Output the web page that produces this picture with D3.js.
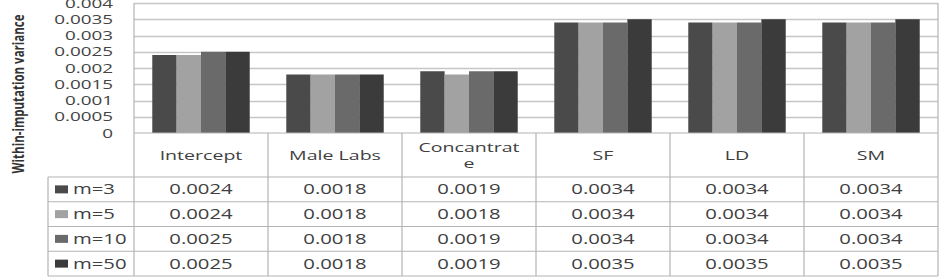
<!DOCTYPE html>
<html>
<head>
<meta charset="utf-8">
<script src="https://cdn.jsdelivr.net/npm/d3@7"></script>
<style>
body { margin: 0; background: #fff; }
text { font-family: "Open Sans", sans-serif; }
</style>
</head>
<body>
<div id="container"></div>
<script>
var categories = ['Intercept', 'Male Labs', 'Concantrate', 'SF', 'LD', 'SM'];
var headerLines = [['Intercept'], ['Male Labs'], ['Concantrat', 'e'], ['SF'], ['LD'], ['SM']];
var series = ['m=3', 'm=5', 'm=10', 'm=50'];
var m3 = [0.0024, 0.0018, 0.0019, 0.0034, 0.0034, 0.0034];
var m5 = [0.0024, 0.0018, 0.0018, 0.0034, 0.0034, 0.0034];
var m10 = [0.0025, 0.0018, 0.0019, 0.0034, 0.0034, 0.0034];
var m50 = [0.0025, 0.0018, 0.0019, 0.0035, 0.0035, 0.0035];
var yTicks = [0, 0.0005, 0.001, 0.0015, 0.002, 0.0025, 0.003, 0.0035, 0.004];
var yTickLabels = ['0', '0.0005', '0.001', '0.0015', '0.002', '0.0025', '0.003', '0.0035', '0.004'];

var values = [m3, m5, m10, m50];
var colors = ['#4a4a4a', '#a2a2a2', '#6a6a6a', '#3b3b3b'];
var sx = 1.45; // the source picture is stretched sideways

var W = 950, H = 278;
var plot = { left: 134, right: 938, top: 3, bottom: 133 };
var table = { left: 48, headBottom: 177, bottom: 276 };

var svg = d3.select('#container').append('svg')
	.attr('width', W)
	.attr('height', H);

var x0 = d3.scaleBand().domain(categories).range([plot.left, plot.right]);
var x1 = d3.scaleBand().domain(series).range([0, x0.bandwidth()])
	.paddingInner(0).paddingOuter(0.75);
var y = d3.scaleLinear().domain([0, 0.004]).range([plot.bottom, plot.top]);
var rowY = d3.scaleBand().domain(series).range([table.headBottom, table.bottom]);

// gridlines
svg.append('g').selectAll('line')
	.data(yTicks.slice(1))
	.join('line')
	.attr('x1', plot.left).attr('x2', plot.right)
	.attr('y1', function(d) { return Math.round(y(d)) + 0.5; })
	.attr('y2', function(d) { return Math.round(y(d)) + 0.5; })
	.attr('stroke', '#c6c6c6')
	.attr('stroke-width', 1.5);

// y labels
svg.append('g').selectAll('text')
	.data(yTicks)
	.join('text')
	.attr('transform', function(d) { return 'translate(113,' + y(d) + ') scale(' + sx + ',1)'; })
	.attr('dy', '0.35em')
	.attr('text-anchor', 'end')
	.style('font-size', '13px')
	.style('fill', '#444')
	.text(function(d, i) { return yTickLabels[i]; });

// bars
var groups = svg.append('g').selectAll('g')
	.data(series)
	.join('g')
	.attr('fill', function(d, i) { return colors[i]; });

groups.selectAll('rect')
	.data(function(s, i) { return categories.map(function(c, j) { return { cat: c, s: s, v: values[i][j] }; }); })
	.join('rect')
	.attr('x', function(d) { return x0(d.cat) + x1(d.s); })
	.attr('width', x1.bandwidth())
	.attr('y', function(d) { return y(d.v); })
	.attr('height', function(d) { return y(0) - y(d.v); });

// table lines
var lineColor = '#b4b4b4';
var tl = svg.append('g').attr('stroke', lineColor).attr('stroke-width', 1.2);

tl.append('line')
	.attr('x1', plot.right).attr('x2', plot.right)
	.attr('y1', plot.top).attr('y2', table.bottom);
tl.selectAll('line.col')
	.data(categories)
	.join('line')
	.attr('class', 'col')
	.attr('x1', function(d) { return x0(d); })
	.attr('x2', function(d) { return x0(d); })
	.attr('y1', function(d, i) { return i === 0 ? plot.top : plot.bottom; })
	.attr('y2', table.bottom);
tl.append('line')
	.attr('x1', plot.left).attr('x2', plot.right)
	.attr('y1', plot.bottom).attr('y2', plot.bottom);
tl.selectAll('line.row')
	.data(series.concat(['end']))
	.join('line')
	.attr('class', 'row')
	.attr('x1', table.left).attr('x2', plot.right)
	.attr('y1', function(d) { return d === 'end' ? table.bottom : rowY(d); })
	.attr('y2', function(d) { return d === 'end' ? table.bottom : rowY(d); });
tl.append('line')
	.attr('x1', table.left).attr('x2', table.left)
	.attr('y1', table.headBottom).attr('y2', table.bottom);

// header text, one text per line
var headData = [];
categories.forEach(function(c, i) {
	var n = headerLines[i].length;
	headerLines[i].forEach(function(line, k) {
		headData.push({ cat: c, line: line, cy: (plot.bottom + table.headBottom) / 2 + (k - (n - 1) / 2) * 16 });
	});
});
svg.append('g').selectAll('text')
	.data(headData)
	.join('text')
	.attr('transform', function(d) {
		return 'translate(' + (x0(d.cat) + x0.bandwidth() / 2) + ',' + d.cy + ') scale(' + sx + ',1)';
	})
	.attr('dy', '0.35em')
	.attr('text-anchor', 'middle')
	.style('font-size', '13.5px')
	.style('fill', '#404040')
	.text(function(d) { return d.line; });

// legend keys + labels
var leg = svg.append('g').selectAll('g')
	.data(series)
	.join('g')
	.attr('transform', function(d) { return 'translate(' + table.left + ',' + (rowY(d) + rowY.bandwidth() / 2) + ')'; });
leg.append('rect')
	.attr('x', 7).attr('y', -4)
	.attr('width', 13).attr('height', 8)
	.attr('fill', function(d, i) { return colors[i]; });
leg.append('text')
	.attr('transform', 'translate(25,0) scale(' + sx + ',1)')
	.attr('dy', '0.35em')
	.style('font-size', '14px')
	.style('fill', '#404040')
	.text(function(d) { return d; });

// cell values
svg.append('g').selectAll('g')
	.data(series)
	.join('g')
	.selectAll('text')
	.data(function(s, i) { return categories.map(function(c, j) { return { cat: c, s: s, v: values[i][j] }; }); })
	.join('text')
	.attr('transform', function(d) {
		return 'translate(' + (x0(d.cat) + x0.bandwidth() / 2) + ',' + (rowY(d.s) + rowY.bandwidth() / 2) + ') scale(' + sx + ',1)';
	})
	.attr('dy', '0.35em')
	.attr('text-anchor', 'middle')
	.style('font-size', '14px')
	.style('fill', '#404040')
	.text(function(d) { return d3.format('.4f')(d.v); });

// axis title
svg.append('text')
	.attr('transform', 'translate(18,94) rotate(-90) scale(1,1.4)')
	.attr('dy', '0.35em')
	.attr('text-anchor', 'middle')
	.style('font-size', '11.5px')
	.style('font-weight', 'bold')
	.style('fill', '#333')
	.text('Within-imputation variance');
</script>
</body>
</html>
